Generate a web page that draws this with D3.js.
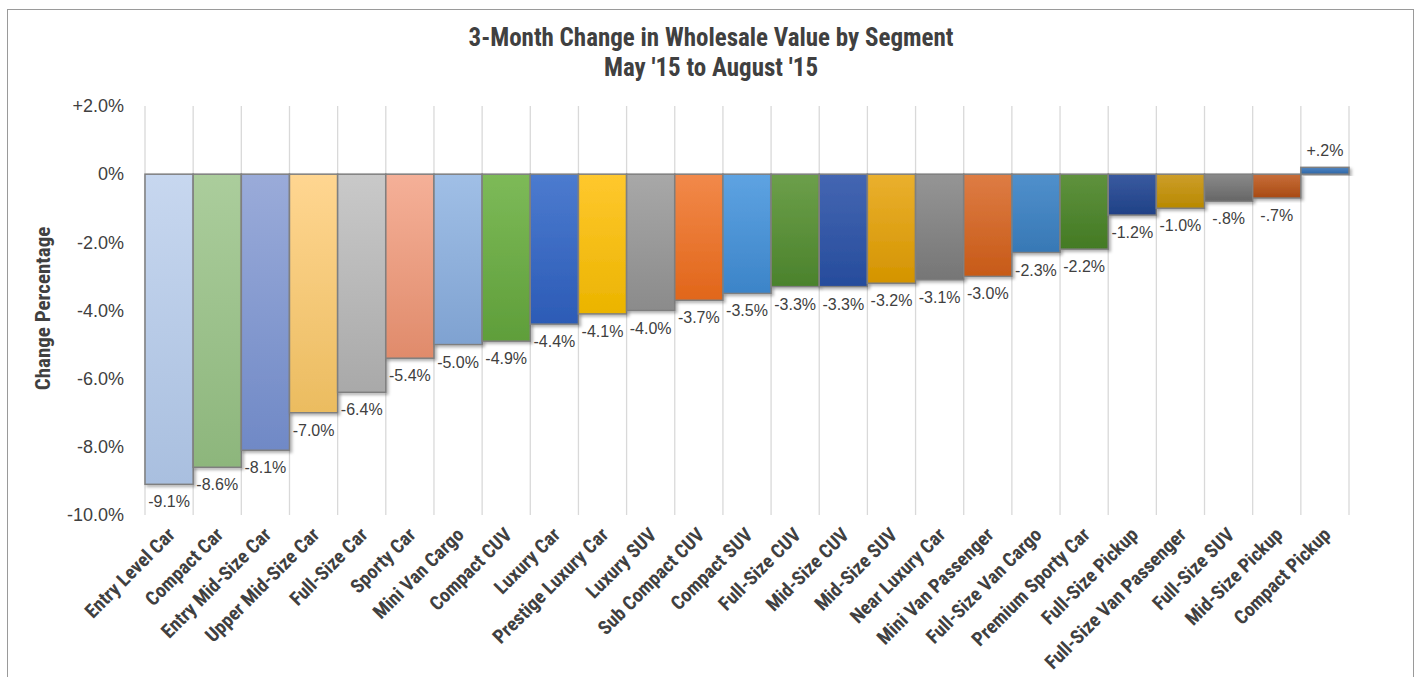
<!DOCTYPE html>
<html>
<head>
<meta charset="utf-8">
<script src="https://cdn.jsdelivr.net/npm/d3@7"></script>
<style>
  body { margin: 0; background: #fff; }
  .cond { font-family: "Liberation Sans Narrow", "Roboto Condensed", "DejaVu Sans Condensed", sans-serif; font-stretch: condensed; font-weight: bold; }
  .reg { font-family: "Liberation Sans", Arial, sans-serif; }
</style>
</head>
<body>
<div id="chart"></div>
<script>
// data
var categories = ['Entry Level Car', 'Compact Car', 'Entry Mid-Size Car', 'Upper Mid-Size Car',
  'Full-Size Car', 'Sporty Car', 'Mini Van Cargo', 'Compact CUV', 'Luxury Car',
  'Prestige Luxury Car', 'Luxury SUV', 'Sub Compact CUV', 'Compact SUV', 'Full-Size CUV',
  'Mid-Size CUV', 'Mid-Size SUV', 'Near Luxury Car', 'Mini Van Passenger',
  'Full-Size Van Cargo', 'Premium Sporty Car', 'Full-Size Pickup',
  'Full-Size Van Passenger', 'Full-Size SUV', 'Mid-Size Pickup', 'Compact Pickup'];
var changes = [-9.1, -8.6, -8.1, -7.0, -6.4, -5.4, -5.0, -4.9, -4.4, -4.1, -4.0, -3.7, -3.5,
  -3.3, -3.3, -3.2, -3.1, -3.0, -2.3, -2.2, -1.2, -1.0, -0.8, -0.7, 0.2];
var tickValues = [2, 0, -2, -4, -6, -8, -10];
var tickLabels = ['+2.0%', '0%', '-2.0%', '-4.0%', '-6.0%', '-8.0%', '-10.0%'];

// gradient colours, top then bottom
var colorTop = ['#c7d7ef', '#abcd9c', '#9aabd9', '#ffd691', '#c9c9c9', '#f5b098', '#a0bfe6',
  '#7dba58', '#4c7bcf', '#ffc82e', '#a8a8a8', '#f2894a', '#5ea3e2', '#6c9f4a', '#4466b2',
  '#eab02e', '#959595', '#de7c44', '#5090cc', '#5f923d', '#3a5aa0', '#cd9e2a', '#8a8a8a',
  '#c86e3a', '#4f86c4'];
var colorBot = ['#a9bfdf', '#8db67c', '#7089c6', '#ebbc60', '#a9a9a9', '#e08b6b', '#7fa2d1',
  '#5f9e3a', '#2c5bb6', '#ebb400', '#8b8b8b', '#e1661a', '#3c84c8', '#4b822c', '#264c9c',
  '#d49400', '#767676', '#c75a17', '#3778b5', '#437a24', '#1f4186', '#b88900', '#666666',
  '#a84a12', '#2d66a6'];

var w = 1418, h = 677;
var margin = { left: 145, right: 69, top: 106, bottom: 162 };

var svg = d3.select('#chart').append('svg')
  .attr('width', w)
  .attr('height', h);

var defs = svg.append('defs');
var shadow = defs.append('filter').attr('id', 'shadow')
  .attr('x', '-10%').attr('y', '-10%').attr('width', '130%').attr('height', '130%');
shadow.append('feDropShadow')
  .attr('dx', 2).attr('dy', 2).attr('stdDeviation', 1.6)
  .attr('flood-color', '#000').attr('flood-opacity', 0.3);

categories.forEach(function(c, i) {
  var g = defs.append('linearGradient').attr('id', 'grad' + i)
    .attr('x1', 0).attr('y1', 0).attr('x2', 0).attr('y2', 1);
  g.append('stop').attr('offset', '0%').attr('stop-color', colorTop[i]);
  g.append('stop').attr('offset', '100%').attr('stop-color', colorBot[i]);
});

// chart frame
svg.append('rect')
  .attr('x', 7.5).attr('y', 9.5)
  .attr('width', 1406).attr('height', 700)
  .attr('fill', 'none')
  .attr('stroke', '#9a9a9a');

var x = d3.scaleBand()
  .domain(categories)
  .range([margin.left, w - margin.right])
  .padding(0);

var y = d3.scaleLinear()
  .domain([-10, 2])
  .range([h - margin.bottom, margin.top]);

// vertical gridlines at category edges
var edges = categories.map(function(c) { return x(c); }).concat([x.range()[1]]);
svg.append('g').selectAll('line')
  .data(edges)
  .enter().append('line')
  .attr('x1', function(d) { return d; })
  .attr('x2', function(d) { return d; })
  .attr('y1', y(2))
  .attr('y2', y(-10))
  .attr('stroke', '#d9d9d9')
  .attr('stroke-width', 1.3);

// bars
var data = categories.map(function(c, i) { return { cat: c, val: changes[i], i: i }; });

svg.append('g').selectAll('rect')
  .data(data)
  .enter().append('rect')
  .attr('x', function(d) { return x(d.cat); })
  .attr('width', x.bandwidth())
  .attr('y', function(d) { return y(Math.max(0, d.val)); })
  .attr('height', function(d) { return Math.abs(y(d.val) - y(0)); })
  .attr('fill', function(d) { return 'url(#grad' + d.i + ')'; })
  .attr('stroke', '#7f7f7f')
  .attr('stroke-width', 1.5)
  .attr('filter', 'url(#shadow)');

// value labels
function fmt(v) {
  var s = Math.abs(v).toFixed(1);
  if (Math.abs(v) < 1) s = s.slice(1);
  return (v < 0 ? '-' : '+') + s + '%';
}

svg.append('g').selectAll('text')
  .data(data)
  .enter().append('text')
  .attr('class', 'reg')
  .attr('x', function(d) { return x(d.cat) + x.bandwidth() / 2; })
  .attr('y', function(d) { return d.val < 0 ? y(d.val) + 23 : y(d.val) - 11; })
  .attr('text-anchor', 'middle')
  .attr('font-size', 16)
  .attr('fill', '#404040')
  .text(function(d) { return fmt(d.val); });

// y axis
var yAxis = svg.append('g')
  .attr('transform', 'translate(' + margin.left + ',0)')
  .call(d3.axisLeft(y)
    .tickValues(tickValues)
    .tickSize(0)
    .tickPadding(21)
    .tickFormat(function(d, i) { return tickLabels[i]; }));
yAxis.select('.domain').remove();
yAxis.selectAll('text')
  .attr('class', 'reg')
  .attr('font-size', 18)
  .attr('fill', '#404040');

// x axis
var xAxis = svg.append('g')
  .attr('transform', 'translate(0,' + y(-10) + ')')
  .call(d3.axisBottom(x).tickSize(0).tickPadding(0));
xAxis.select('.domain').remove();
xAxis.selectAll('text')
  .attr('class', 'cond')
  .attr('font-size', 19.5)
  .attr('fill', '#404040')
  .attr('text-anchor', 'end')
  .attr('dy', 0)
  .attr('transform', 'translate(7,21) rotate(-45)');

// axis title
svg.append('text')
  .attr('class', 'cond')
  .attr('transform', 'translate(50,' + ((y(2) + y(-10)) / 2 - 2) + ') rotate(-90)')
  .attr('text-anchor', 'middle')
  .attr('font-size', 21)
  .attr('fill', '#404040')
  .text('Change Percentage');

// title
var title = svg.append('text')
  .attr('class', 'cond')
  .attr('text-anchor', 'middle')
  .attr('font-size', 25)
  .attr('fill', '#404040');
title.append('tspan').attr('x', 711).attr('y', 46).text('3-Month Change in Wholesale Value by Segment');
title.append('tspan').attr('x', 711).attr('y', 76).text("May '15 to August '15");
</script>
</body>
</html>
